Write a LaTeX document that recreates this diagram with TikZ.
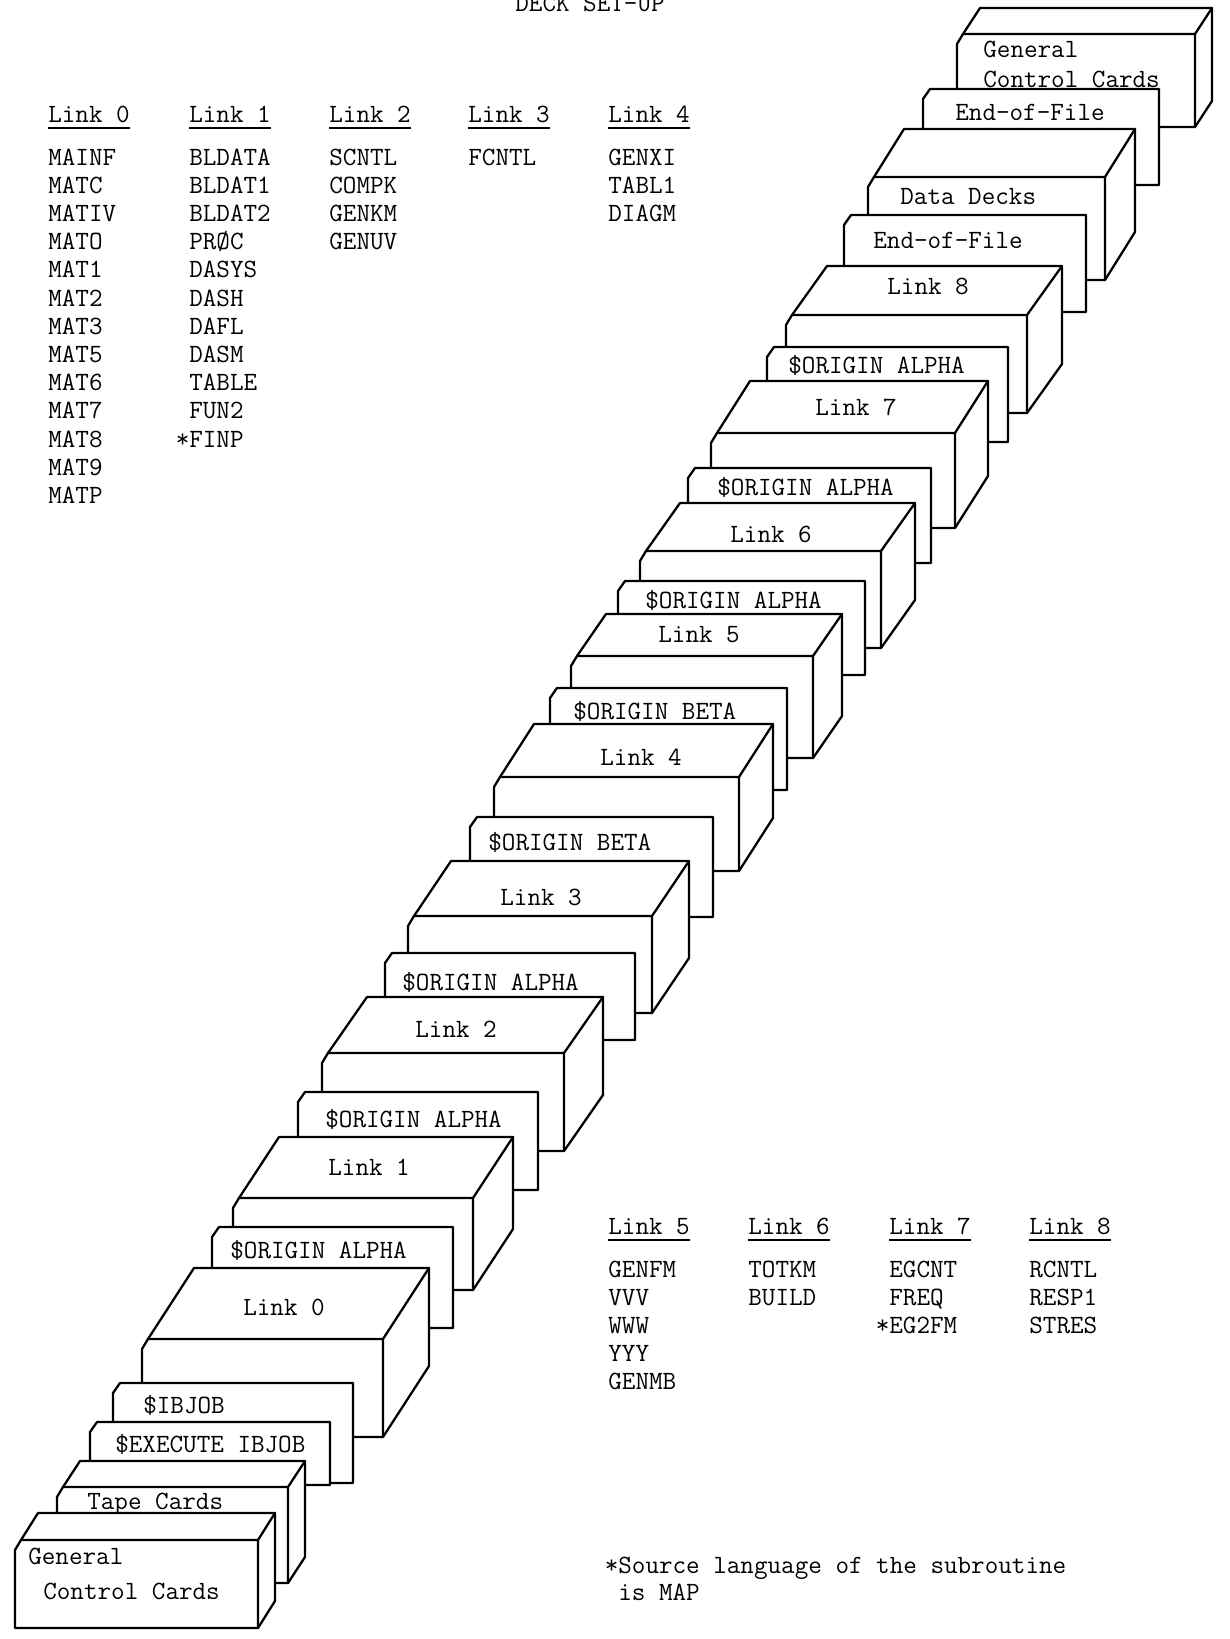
\documentclass[tikz,border=0pt]{standalone}
\usetikzlibrary{calc}
\newcommand\deckfont{\fontsize{15}{18}\selectfont\ttfamily}
% box: name, left, right, top, bottom, depth x, depth y
\newcommand\deckbox[7]{%
  \filldraw[cardface] (#2,#5) -- (#2,#4+10) -- (#2+6,#4) -- (#2+6+#6,#4-#7)
    -- (#3+#6,#4-#7) -- (#3+#6,#5-#7) -- (#3,#5) -- cycle;
  \draw[deckline] (#2+6,#4) -- (#3,#4) -- (#3+#6,#4-#7) (#3,#4) -- (#3,#5);
  \coordinate (#1) at (#2,#4);}
% flat card: name, left, right, top, bottom
\newcommand\deckcard[5]{%
  \filldraw[cardface] (#2,#5) -- (#2,#4+10) -- (#2+7,#4) -- (#3,#4) -- (#3,#5) -- cycle;
  \coordinate (#1) at (#2,#4);}

\begin{document}
\begin{tikzpicture}[x=0.02cm,y=-0.02cm,
  deckline/.style={line width=1.3pt,line join=round,line cap=round},
  cardface/.style={deckline,fill=white},
  lbl/.style={font=\deckfont,inner sep=0pt,anchor=base west},
  uline/.style={line width=1.1pt},
]
  \useasboundingbox (0,0) rectangle (1230,1639);
  \node[lbl,anchor=base] (title) at (590,12) {DECK SET-UP};

  % routine lists, links 0-4
  \node[lbl] (h0) at (48,122) {Link 0};
  \node[lbl] (h1) at (189,122) {Link 1};
  \node[lbl] (h2) at (329,122) {Link 2};
  \node[lbl] (h3) at (468,122) {Link 3};
  \node[lbl] (h4) at (608,122) {Link 4};
  \foreach \w [count=\i from 0] in {MAINF,MATC,MATIV,MATO,MAT1,MAT2,MAT3,MAT5,MAT6,MAT7,MAT8,MAT9,MATP}
    \node[lbl] (r0-\i) at (48,165+28.2*\i) {\w};
  \foreach \w [count=\i from 0] in {BLDATA,BLDAT1,BLDAT2,{PR\O{}C},DASYS,DASH,DAFL,DASM,TABLE,FUN2,{\llap{*}FINP}}
    \node[lbl] (r1-\i) at (189,165+28.2*\i) {\w};
  \foreach \w [count=\i from 0] in {SCNTL,COMPK,GENKM,GENUV}
    \node[lbl] (r2-\i) at (329,165+28.2*\i) {\w};
  \node[lbl] (r3-0) at (468,165) {FCNTL};
  \foreach \w [count=\i from 0] in {GENXI,TABL1,DIAGM}
    \node[lbl] (r4-\i) at (608,165+28.2*\i) {\w};

  % routine lists, links 5-8
  \node[lbl] (h5) at (608,1234) {Link 5};
  \node[lbl] (h6) at (748,1234) {Link 6};
  \node[lbl] (h7) at (889,1234) {Link 7};
  \node[lbl] (h8) at (1029,1234) {Link 8};
  \foreach \w [count=\i from 0] in {GENFM,VVV,WWW,YYY,GENMB}
    \node[lbl] (r5-\i) at (608,1277+28*\i) {\w};
  \foreach \w [count=\i from 0] in {TOTKM,BUILD}
    \node[lbl] (r6-\i) at (748,1277+28*\i) {\w};
  \foreach \w [count=\i from 0] in {EGCNT,FREQ,{\llap{*}EG2FM}}
    \node[lbl] (r7-\i) at (889,1277+28*\i) {\w};
  \foreach \w [count=\i from 0] in {RCNTL,RESP1,STRES}
    \node[lbl] (r8-\i) at (1029,1277+28*\i) {\w};
  \foreach \h in {h0,h1,h2,h3,h4,h5,h6,h7,h8}
    \draw[uline] ($(\h.base west)+(0,6)$) -- ($(\h.base east)+(0,6)$);

  \node[lbl] (note1) at (618,1573) {\llap{*}Source language of the subroutine};
  \node[lbl] (note2) at (618,1600) {is MAP};

  % the deck, back to front
  \deckbox{gccB}{957}{1195}{34}{127}{17}{26}
  \node[lbl] (t-gccB1) at ($(gccB)+(26,24)$) {General};
  \node[lbl] (t-gccB2) at ($(gccB)+(26,54)$) {Control Cards};
  \deckcard{eof2}{923}{1159}{89}{185}
  \node[lbl] (t-eof2) at ($(eof2)+(32,31)$) {End-of-File};
  \deckbox{data}{868}{1105}{177}{280}{30}{48}
  \node[lbl] (t-data) at ($(data)+(32,27)$) {Data Decks};
  \deckcard{eof1}{844}{1086}{215}{312}
  \node[lbl] (t-eof1) at ($(eof1)+(29,33)$) {End-of-File};
  \deckbox{link8}{786}{1027}{315}{413}{35}{49}
  \node[lbl] (t-link8) at ($(link8)+(101,-21)$) {Link 8};
  \deckcard{alpha6}{767}{1008}{347}{442}
  \node[lbl] (t-alpha6) at ($(alpha6)+(21,26)$) {\$ORIGIN ALPHA};
  \deckbox{link7}{711}{955}{433}{528}{33}{52}
  \node[lbl] (t-link7) at ($(link7)+(104,-18)$) {Link 7};
  \deckcard{alpha5}{688}{931}{468}{563}
  \node[lbl] (t-alpha5) at ($(alpha5)+(29,27)$) {\$ORIGIN ALPHA};
  \deckbox{link6}{640}{881}{551}{648}{34}{48}
  \node[lbl] (t-link6) at ($(link6)+(90,-9)$) {Link 6};
  \deckcard{alpha4}{618}{865}{581}{675}
  \node[lbl] (t-alpha4) at ($(alpha4)+(27,27)$) {\$ORIGIN ALPHA};
  \deckbox{link5}{571}{813}{656}{758}{29}{42}
  \node[lbl] (t-link5) at ($(link5)+(87,-14)$) {Link 5};
  \deckcard{beta2}{550}{787}{688}{790}
  \node[lbl] (t-beta2) at ($(beta2)+(23,31)$) {\$ORIGIN BETA};
  \deckbox{link4}{494}{739}{777}{871}{34}{53}
  \node[lbl] (t-link4) at ($(link4)+(106,-12)$) {Link 4};
  \deckcard{beta1}{470}{713}{817}{917}
  \node[lbl] (t-beta1) at ($(beta1)+(18,33)$) {\$ORIGIN BETA};
  \deckbox{link3}{408}{652}{916}{1013}{37}{55}
  \node[lbl] (t-link3) at ($(link3)+(92,-11)$) {Link 3};
  \deckcard{alpha3}{385}{635}{953}{1040}
  \node[lbl] (t-alpha3) at ($(alpha3)+(17,37)$) {\$ORIGIN ALPHA};
  \deckbox{link2}{322}{564}{1053}{1151}{39}{56}
  \node[lbl] (t-link2) at ($(link2)+(93,-16)$) {Link 2};
  \deckcard{alpha2}{298}{538}{1092}{1190}
  \node[lbl] (t-alpha2) at ($(alpha2)+(27,35)$) {\$ORIGIN ALPHA};
  \deckbox{link1}{233}{473}{1198}{1290}{40}{61}
  \node[lbl] (t-link1) at ($(link1)+(95,-23)$) {Link 1};
  \deckcard{alpha1}{212}{453}{1227}{1328}
  \node[lbl] (t-alpha1) at ($(alpha1)+(18,31)$) {\$ORIGIN ALPHA};
  \deckbox{link0}{142}{383}{1339}{1437}{46}{71}
  \node[lbl] (t-link0) at ($(link0)+(101,-24)$) {Link 0};
  \deckcard{ibjob}{113}{353}{1383}{1483}
  \node[lbl] (t-ibjob) at ($(ibjob)+(30,30)$) {\$IBJOB};
  \deckcard{exec}{90}{330}{1422}{1485}
  \node[lbl] (t-exec) at ($(exec)+(25,30)$) {\$EXECUTE IBJOB};
  \deckbox{tape}{57}{288}{1487}{1583}{17}{26}
  \node[lbl] (t-tape) at ($(tape)+(30,22)$) {Tape Cards};
  \deckbox{gccA}{15}{258}{1540}{1628}{17}{27}
  \node[lbl] (t-gccA1) at ($(gccA)+(13,24)$) {General};
  \node[lbl] (t-gccA2) at ($(gccA)+(28,59)$) {Control Cards};
\end{tikzpicture}
\end{document}
